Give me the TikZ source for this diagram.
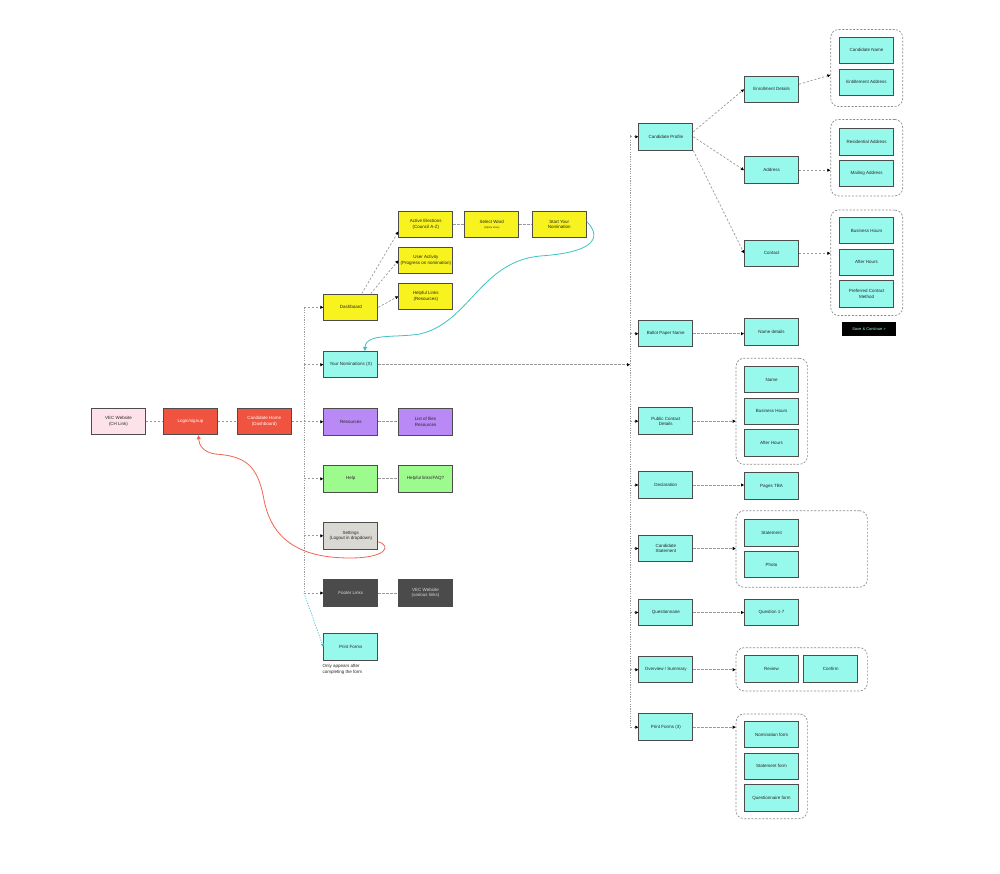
\documentclass[tikz,border=0pt]{standalone}
\usepackage{fontspec}
\setmainfont{Liberation Sans}
\usetikzlibrary{arrows.meta}
\definecolor{VECpink}{HTML}{FDE3E9}
\definecolor{VECred}{HTML}{F0533F}
\definecolor{VECyellow}{HTML}{F8F21E}
\definecolor{VECteal}{HTML}{97F9EC}
\definecolor{VECpurple}{HTML}{B98AF6}
\definecolor{VECgreen}{HTML}{9DFA8D}
\definecolor{VECgrey}{HTML}{DAD8D3}
\definecolor{VECdark}{HTML}{4B4B4B}
\definecolor{VECline}{HTML}{3FC2C2}
\definecolor{VECloop}{HTML}{F26452}

\begin{document}
\begin{tikzpicture}[x=1pt,y=-1pt,
  box/.style={draw=black!70,line width=1pt,minimum width=54pt,minimum height=26.5pt,
    inner sep=1pt,align=center,font=\fontsize{4.5}{5.5}\selectfont,text=black!85},
  grp/.style={draw=black!45,line width=0.7pt,dash pattern=on 2pt off 1.6pt,rounded corners=8pt},
  link/.style={draw=black!40,line width=0.7pt,dash pattern=on 2.2pt off 1.8pt},
  spine/.style={draw=black!40,line width=0.8pt,dash pattern=on 1.2pt off 1.2pt},
  arr/.style={-{Triangle[length=3pt,width=3pt,black]}}]
  \fill[white] (0,0) rectangle (1000,874);
  \useasboundingbox (0,0) rectangle (1000,874);
  \coordinate (spineL) at (304,0);
  \coordinate (spineR) at (630,0);

  \node[box,fill=VECpink] (website) at (118.5,421.5) {VEC Website\\(CH Link)};
  \node[box,fill=VECred,text=white] (login) at (190.5,421.5) {Login/signup};
  \node[box,fill=VECred,text=white] (home) at (264.3,421.5) {Candidate Home\\(Dashboard)};

  \node[box,fill=VECyellow] (dash) at (350.8,307.3) {Dashboard};
  \node[box,fill=VECyellow] (active) at (425.8,224.5) {Active Elections\\(Council A-Z)};
  \node[box,fill=VECyellow] (ward) at (491.8,224.5) {Select Ward\\{\fontsize{2.6}{3}\selectfont(Alpine View)}};
  \node[box,fill=VECyellow] (start) at (559.2,224.5) {Start Your\\Nomination};
  \node[box,fill=VECyellow] (activity) at (425.8,260.5) {User Activity\\(Progress on nomination)};
  \node[box,fill=VECyellow] (helplinks) at (425.8,296.3) {Helpful Links\\(Resources)};
  \node[box,fill=VECteal] (yournoms) at (350.8,364.7) {Your Nominations (X)};
  \node[box,fill=VECpurple] (resources) at (350.8,421.8) {Resources};
  \node[box,fill=VECpurple] (files) at (425.5,421.8) {List of files\\Resources};
  \node[box,fill=VECgreen] (help) at (350.8,478.8) {Help};
  \node[box,fill=VECgreen] (faq) at (425.5,478.8) {Helpful links/FAQ?};
  \node[box,fill=VECgrey] (settings) at (350.8,535.8) {Settings\\(Logout in dropdown)};
  \node[box,fill=VECdark,text=white!85!black] (footer) at (350.8,593) {Footer Links};
  \node[box,fill=VECdark,text=white!85!black] (vecsite) at (425.5,593) {VEC Website\\(various links)};
  \node[box,fill=VECteal] (printforms) at (350.8,646.8) {Print Forms};
  \node[anchor=north west,align=left,inner sep=0pt,font=\fontsize{4.5}{5.6}\selectfont,text=black!85]
    (note) at (322.5,664) {Only appears after\\completing the form};

  \node[box,fill=VECteal] (profile) at (665.8,136.8) {Candidate Profile};
  \node[box,fill=VECteal] (enrol) at (771.5,89.3) {Enrollment Details};
  \node[box,fill=VECteal] (address) at (771.5,170.2) {Address};
  \node[box,fill=VECteal] (contact) at (771.5,253.3) {Contact};
  \node[grp,minimum width=72pt,minimum height=77pt] (g1) at (866.7,68) {};
  \node[box,fill=VECteal] (candname) at (866.5,50.3) {Candidate Name};
  \node[box,fill=VECteal] (entaddr) at (866.5,82.3) {Entitlement Address};
  \node[grp,minimum width=72pt,minimum height=76.5pt] (g2) at (866.7,157.7) {};
  \node[box,fill=VECteal] (resaddr) at (866.5,142) {Residential Address};
  \node[box,fill=VECteal] (mailaddr) at (866.5,173.7) {Mailing Address};
  \node[grp,minimum width=72pt,minimum height=105.5pt] (g3) at (866.7,262.8) {};
  \node[box,fill=VECteal] (bushours) at (866.5,230.7) {Business Hours};
  \node[box,fill=VECteal] (afterhours) at (866.5,262.3) {After Hours};
  \node[box,fill=VECteal] (prefmethod) at (866.5,294) {Preferred Contact\\Method};
  \node[fill=black,text=VECteal,minimum width=54.6pt,minimum height=13.7pt,inner sep=0pt,
    font=\fontsize{4}{5}\selectfont] (save) at (869,329) {Save \& Continue >};

  \node[box,fill=VECteal] (ballot) at (665.8,333.7) {Ballot Paper Name};
  \node[box,fill=VECteal] (namedet) at (771.5,332) {Name details};
  \node[box,fill=VECteal] (public) at (665.8,421.2) {Public Contact\\Details};
  \node[grp,minimum width=71.3pt,minimum height=106pt] (g4) at (771.7,411.3) {};
  \node[box,fill=VECteal] (pubname) at (771.5,379.7) {Name};
  \node[box,fill=VECteal] (pubbus) at (771.5,411.3) {Business Hours};
  \node[box,fill=VECteal] (pubafter) at (771.5,443) {After Hours};
  \node[box,fill=VECteal] (declar) at (665.8,485) {Declaration};
  \node[box,fill=VECteal] (pages) at (771.5,486.2) {Pages TBA};
  \node[box,fill=VECteal] (candstmt) at (665.8,548.5) {Candidate\\Statement};
  \node[grp,minimum width=131.3pt,minimum height=76.6pt] (g5) at (801.7,549) {};
  \node[box,fill=VECteal] (stmt) at (771.5,532.8) {Statement};
  \node[box,fill=VECteal] (photo) at (771.5,564.5) {Photo};
  \node[box,fill=VECteal] (quest) at (665.8,612.5) {Questionnaire};
  \node[box,fill=VECteal] (q17) at (771.5,612.5) {Question 1-7};
  \node[box,fill=VECteal] (overview) at (665.8,669.7) {Overview / Summary};
  \node[grp,minimum width=131.3pt,minimum height=43.3pt] (g6) at (801.7,669.3) {};
  \node[box,fill=VECteal] (review) at (771.5,668.8) {Review};
  \node[box,fill=VECteal] (confirm) at (830.8,668.8) {Confirm};
  \node[box,fill=VECteal] (printthree) at (665.8,727.2) {Print Forms (3)};
  \node[grp,minimum width=71.3pt,minimum height=104.7pt] (g7) at (771.7,766.3) {};
  \node[box,fill=VECteal] (nomform) at (771.5,734.7) {Nomination form};
  \node[box,fill=VECteal] (stform) at (771.5,766.3) {Statement form};
  \node[box,fill=VECteal] (qform) at (771.5,798.2) {Questionnaire form};

  \draw[link] (website) -- (login);
  \draw[link] (login) -- (home);
  \draw[link] (home) -- (spineL |- home);
  \draw[spine] (spineL |- dash) -- (spineL |- footer);
  \foreach \n in {dash,yournoms,resources,help,settings,footer}
    \draw[link,arr] (spineL |- \n) -- (\n);
  \draw[VECline,line width=0.7pt,dash pattern=on 1.2pt off 1.4pt,-{Triangle[length=3pt,width=3pt]}]
    (spineL |- footer) -- (printforms.west);

  \draw[link,arr] ([xshift=11pt]dash.north) -- ([yshift=-7pt]active.west);
  \draw[link,arr] ([xshift=20pt]dash.north) -- (activity.west);
  \draw[link,arr] (dash.east) -- (helplinks.west);
  \draw[link] (active) -- (ward);
  \draw[link] (ward) -- (start);
  \draw[link] (resources) -- (files);
  \draw[link] (help) -- (faq);
  \draw[link] (footer) -- (vecsite);
  \draw[link,arr] (yournoms) -- (spineR |- yournoms);

  \draw[spine] ([yshift=2pt]spineR |- profile) -- (spineR |- printthree);
  \foreach \n in {profile,ballot,public,declar,candstmt,quest,overview,printthree}
    \draw[link,arr] (spineR |- \n) -- (\n);
  \draw[link,arr] ([yshift=5pt]profile.east) -- (enrol.west);
  \draw[link,arr] (profile.east) -- (address.west);
  \draw[link,arr] (profile.south east) -- (contact.west);
  \draw[link,arr] ([yshift=5pt]enrol.east) -- ([yshift=-7pt]g1.west);
  \draw[link,arr] (address) -- (address -| g2.west);
  \draw[link,arr] (contact) -- (contact -| g3.west);
  \draw[link,arr] (ballot) -- (ballot -| namedet.west);
  \draw[link,arr] (public) -- (public -| g4.west);
  \draw[link,arr] (declar) -- (declar -| pages.west);
  \draw[link,arr] (candstmt) -- (candstmt -| g5.west);
  \draw[link,arr] (quest) -- (q17);
  \draw[link,arr] (overview) -- (overview -| g6.west);
  \draw[link,arr] (printthree) -- (printthree -| g7.west);

  \draw[VECline,line width=0.8pt,-{Triangle[length=4pt,width=4pt]}]
    ([yshift=3pt]start.east) .. controls (600,235) and (600,252) .. (540,256)
    .. controls (480,262) and (470,322) .. (420,334)
    .. controls (395,338) and (366,333) .. ([xshift=14pt]yournoms.north);
  \draw[VECloop,line width=0.8pt,-{Triangle[length=4pt,width=4pt]}]
    ([yshift=-6pt]settings.east) .. controls (392,546) and (386,558) .. (350,558)
    .. controls (300,558) and (272,540) .. (264,500)
    .. controls (258,465) and (245,456) .. (215,454)
    .. controls (203,452) and (199,445) .. ([xshift=8pt]login.south);
\end{tikzpicture}
\end{document}
